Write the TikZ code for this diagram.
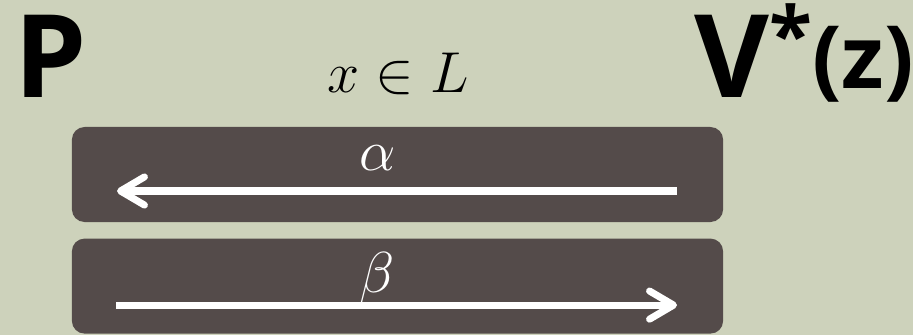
\documentclass[tikz,border=0pt]{standalone}
\usepackage{fontspec}
\setsansfont{Open Sans}
\usetikzlibrary{arrows.meta,positioning}
\definecolor{sageBg}{RGB}{205,210,187}
\definecolor{boxGray}{RGB}{84,75,74}
\tikzset{
  party/.style={font=\sffamily\bfseries\fontsize{82}{90}\selectfont,inner sep=0pt,anchor=base west},
  mathlbl/.style={font=\fontsize{24.88}{28}\selectfont,inner sep=0pt,anchor=base,transform shape,scale=1.65},
  msgbox/.style={fill=boxGray,rounded corners=9pt,minimum width=16.275cm,minimum height=2.375cm,inner sep=0pt},
  msglbl/.style={mathlbl,text=white},
  marr/.style={white,line width=5pt,-{Straight Barb[length=17pt,width=20pt,round]}},
}
\begin{document}
\begin{tikzpicture}[x=0.025cm,y=-0.025cm]
  \fill[sageBg] (0,0) rectangle (913,335);
  \useasboundingbox (0,0) rectangle (913,335);
  \node[party] (prover) at (14,97) {P};
  \node[party] (verifier) at (694,97) {V\raisebox{24pt}{\fontsize{56}{60}\selectfont *}\raisebox{6pt}{\fontsize{62}{66}\selectfont (z)}};
  \node[mathlbl] (stmt) at (398,92) {$x \in L$};
  \node[msgbox] (box1) at (397.5,174.5) {};
  \node[msgbox,below=0.4cm of box1] (box2) {};
  % round 1: V* -> P
  \coordinate (a1) at ([shift={(279.5,16.5)}]box1.center);
  \coordinate (a2) at ([shift={(-280.5,16.5)}]box1.center);
  \draw[marr] (a1) -- (a2);
  \node[msglbl] (alpha) at ([shift={(-20,-4)}]box1.center) {$\alpha$};
  % round 2: P -> V*
  \coordinate (b1) at ([shift={(-281.5,19)}]box2.center);
  \coordinate (b2) at ([shift={(279.5,19)}]box2.center);
  \draw[marr] (b1) -- (b2);
  \node[msglbl] (beta) at ([shift={(-20,6)}]box2.center) {$\beta$};
\end{tikzpicture}
\end{document}
